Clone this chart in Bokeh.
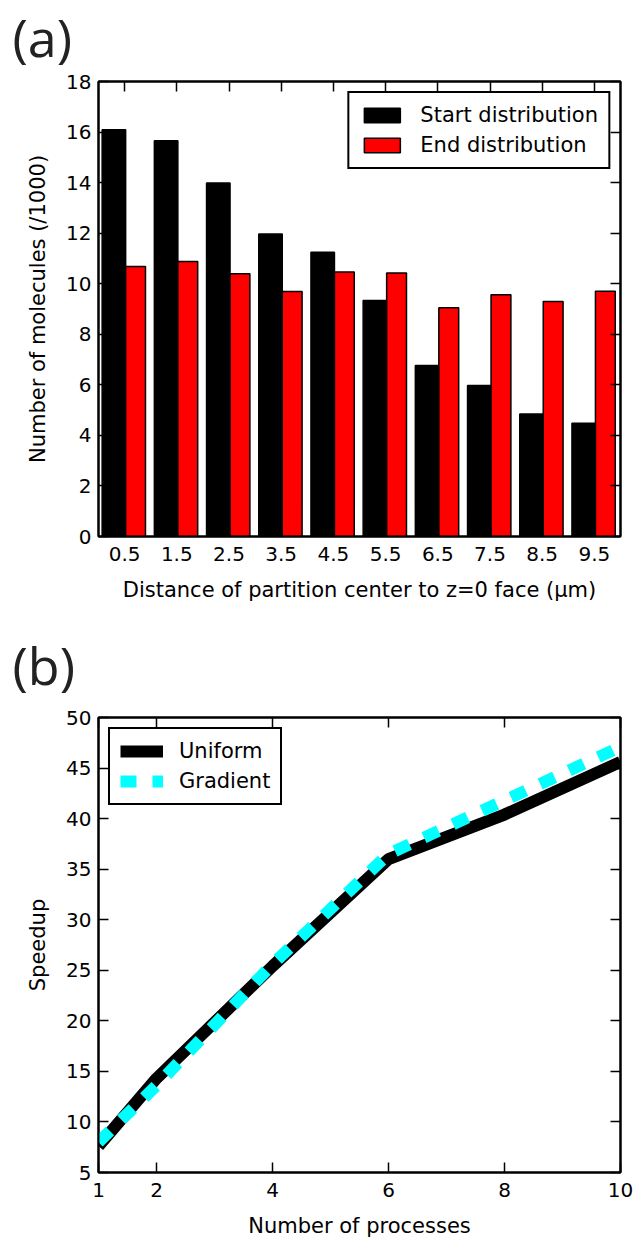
from bokeh.plotting import figure
from bokeh.models import FixedTicker, LinearAxis, Range1d, Legend, LegendItem
from bokeh.layouts import column
from bokeh.embed import file_html
from bokeh.resources import INLINE
import numpy as np

# ---------------- data ----------------
positions = [0.5, 1.5, 2.5, 3.5, 4.5, 5.5, 6.5, 7.5, 8.5, 9.5]
start_dist = [16.09, 15.66, 13.98, 11.97, 11.25, 9.34, 6.76, 5.97, 4.85, 4.48]
end_dist = [10.68, 10.88, 10.39, 9.69, 10.46, 10.42, 9.05, 9.56, 9.30, 9.70]
y_ticks_a = [0, 2, 4, 6, 8, 10, 12, 14, 16, 18]

processes = [1, 2, 4, 6, 8, 10]
uniform = [7.6, 14.3, 25.4, 36.0, 40.4, 45.6]
gradient = [8.0, 13.6, 25.6, 36.5, 41.8, 47.1]
x_ticks_b = [1, 2, 4, 6, 8, 10]
y_ticks_b = [5, 10, 15, 20, 25, 30, 35, 40, 45, 50]

FONT = "DejaVu Sans"
FS = "20px"
FS_LABEL = "21px"


def style_axis(ax, ticks, show_labels=True):
    ax.ticker = FixedTicker(ticks=ticks, minor_ticks=[])
    ax.major_tick_in = 10
    ax.major_tick_out = 0
    ax.minor_tick_in = 0
    ax.minor_tick_out = 0
    ax.axis_line_width = 2
    ax.axis_line_color = "black"
    ax.major_tick_line_width = 1.5
    ax.major_tick_line_color = "black"
    ax.major_label_text_font = FONT
    ax.major_label_text_font_size = FS
    ax.major_label_text_color = "black"
    ax.axis_label_text_font = FONT
    ax.axis_label_text_font_size = FS_LABEL
    ax.axis_label_text_font_style = "normal"
    ax.axis_label_text_color = "black"
    if not show_labels:
        ax.major_label_overrides = {t: "" for t in ticks}
        ax.major_label_standoff = 0


def make_fig(title, xr, yr, top, bottom, standoff):
    p = figure(
        frame_width=522, frame_height=455,
        x_range=Range1d(*xr), y_range=Range1d(*yr),
        output_backend="svg", toolbar_location=None,
        min_border_left=98, min_border_right=15,
        min_border_top=top, min_border_bottom=bottom,
        title=title,
    )
    p.title.text_font = "Open Sans"
    p.title.text_font_size = "52px"
    p.title.text_font_style = "normal"
    p.title.text_color = "#222222"
    p.title.align = "left"
    p.title.offset = -86
    p.title.standoff = standoff
    p.xgrid.visible = False
    p.ygrid.visible = False
    p.outline_line_color = "black"
    p.outline_line_width = 2
    p.outline_line_alpha = 1
    p.background_fill_color = "white"
    p.border_fill_color = "white"
    return p


# ---------------- (a) ----------------
pa = make_fig("(a)", (0, 10), (0, 18), 95, 70, 19)
pa.margin = (-14, 0, 0, 0)
pos = np.array(positions)
black_left = pos - 0.43
split = pos + 0.02
red_right = pos + 0.40
r1 = pa.vbar(x=(black_left + split) / 2, width=split - black_left, top=start_dist, bottom=0,
             fill_color="black", line_color="black", line_width=1.5)
r2 = pa.vbar(x=(split + red_right) / 2, width=red_right - split, top=end_dist, bottom=0,
             fill_color="#ff0000", line_color="black", line_width=1.5)
style_axis(pa.xaxis[0], positions)
style_axis(pa.yaxis[0], y_ticks_a)
pa.xaxis[0].axis_label = "Distance of partition center to z=0 face (μm)"
pa.yaxis[0].axis_label = "Number of molecules (/1000)"
pa.xaxis[0].major_label_standoff = 10
pa.yaxis[0].major_label_standoff = 7
pa.xaxis[0].axis_label_standoff = 14
pa.yaxis[0].axis_label_standoff = 13
ta = LinearAxis()
style_axis(ta, positions, show_labels=False)
pa.add_layout(ta, "above")
ra = LinearAxis()
style_axis(ra, y_ticks_a, show_labels=False)
pa.add_layout(ra, "right")

leg_a = Legend(items=[LegendItem(label="Start distribution", renderers=[r1]),
                      LegendItem(label="End distribution", renderers=[r2])],
               location="top_right")
pa.add_layout(leg_a)

# ---------------- (b) ----------------
pb = make_fig("(b)", (1, 10), (5, 50), 111, 62, 36)
l1 = pb.line(processes, uniform, line_color="black", line_width=12)
l2 = pb.line(processes, gradient, line_color="#00ffff", line_width=12, line_dash="16 16")
style_axis(pb.xaxis[0], x_ticks_b)
style_axis(pb.yaxis[0], y_ticks_b)
pb.xaxis[0].axis_label = "Number of processes"
pb.yaxis[0].axis_label = "Speedup"
pb.xaxis[0].major_label_standoff = 10
pb.yaxis[0].major_label_standoff = 7
pb.xaxis[0].axis_label_standoff = 14
pb.yaxis[0].axis_label_standoff = 13
tb = LinearAxis()
style_axis(tb, x_ticks_b, show_labels=False)
pb.add_layout(tb, "above")
rb = LinearAxis()
style_axis(rb, y_ticks_b, show_labels=False)
pb.add_layout(rb, "right")

leg_b = Legend(items=[LegendItem(label="Uniform", renderers=[l1]),
                      LegendItem(label="Gradient", renderers=[l2])],
               location="top_left")
pb.add_layout(leg_b)

for lg, gw in ((leg_a, 45), (leg_b, 43)):
    lg.border_line_color = "black"
    lg.border_line_width = 2
    lg.border_line_alpha = 1
    lg.background_fill_color = "white"
    lg.background_fill_alpha = 1
    lg.label_text_font = FONT
    lg.label_text_font_size = FS_LABEL
    lg.label_text_color = "black"
    lg.glyph_width = gw
    lg.glyph_height = 18
    lg.label_standoff = 16
    lg.padding = 10
    lg.spacing = 6
    lg.margin = 10

layout = column(pa, pb)
open("out.html", "w").write(file_html(layout, INLINE))
